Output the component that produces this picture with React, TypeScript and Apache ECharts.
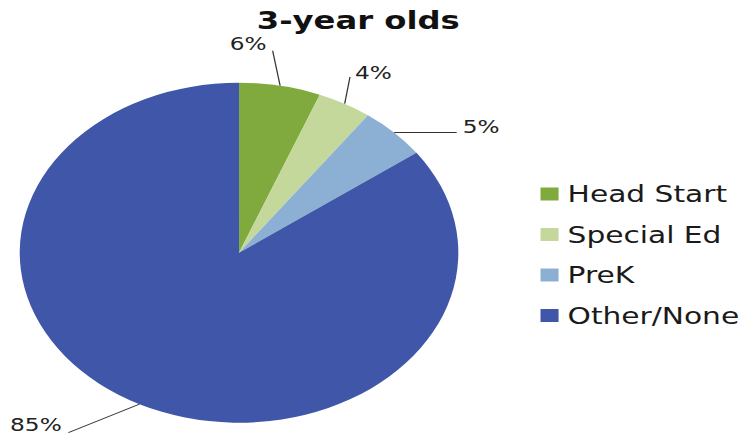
import React, { useEffect, useRef } from "react";
import * as echarts from "echarts";

const title = "3-year olds";
const categories = ["Head Start", "Special Ed", "PreK", "Other/None"];
const values = [6, 4, 5, 85];
const colors = ["#80AA3D", "#C4D89B", "#8CB0D3", "#4056A8"];

// label leader offsets (style): line end relative to library edge point, text relative to line end
const labelOffsets = [
  { lx: -5.8, ly: -35, tx: -4.7, ty: -7, align: "right" },
  { lx: 4.1, ly: -26.7, tx: 3.9, ty: -4.5, align: "left" },
  { lx: 48.5, ly: 0, tx: 4.7, ty: -6, align: "left" },
  { lx: -55.1, ly: 28.5, tx: -5.2, ty: -7.7, align: "right" },
];

const SX = 1.29;
const W = 747;
const H = 437;

export default function App() {
  const ref = useRef<HTMLDivElement>(null);
  useEffect(() => {
    const chart = echarts.init(ref.current!, null, { renderer: "svg" });
    chart.setOption({
      animation: false,
      title: {
        text: title,
        left: 199,
        top: 8,
        padding: 0,
        textStyle: {
          fontFamily: "DejaVu Sans",
          fontWeight: "bold",
          fontSize: 25,
          color: "#111",
        },
      },
      legend: {
        orient: "vertical",
        left: 419,
        top: 182,
        padding: 0,
        itemWidth: 14,
        itemHeight: 13,
        itemGap: 16.5,
        icon: "rect",
        data: categories,
        textStyle: {
          fontFamily: "DejaVu Sans",
          fontSize: 23,
          lineHeight: 24,
          color: "#1a1a1a",
          padding: [0, 0, 0, 2],
        },
      },
      series: [
        {
          type: "pie",
          center: [185.3, 252.7],
          radius: 170,
          startAngle: 90,
          clockwise: true,
          avoidLabelOverlap: false,
          emphasis: { disabled: true },
          itemStyle: { borderWidth: 0 },
          label: {
            show: true,
            position: "outside",
            formatter: (p: any) => Math.round(p.percent) + "%",
            fontFamily: "DejaVu Sans",
            fontSize: 18,
            color: "#222",
          },
          labelLine: {
            show: true,
            length: 10,
            length2: 10,
            lineStyle: { color: "#333", width: 1 },
          },
          labelLayout: (params: any) => {
            const pts = params.labelLinePoints;
            const o = labelOffsets[params.dataIndex];
            if (!pts || !o) return {};
            const s = pts[0];
            const e = [s[0] + o.lx, s[1] + o.ly];
            return {
              x: e[0] + o.tx,
              y: e[1] + o.ty,
              align: o.align,
              verticalAlign: "middle",
              labelLinePoints: [s, e],
            };
          },
          data: categories.map((name, i) => ({
            name,
            value: values[i],
            itemStyle: { color: colors[i] },
          })),
        },
      ],
    });
    return () => chart.dispose();
  }, []);
  return (
    <div
      style={{
        position: "fixed",
        left: 0,
        top: 0,
        width: W,
        height: H,
        overflow: "hidden",
        background: "#fff",
      }}
    >
      <div
        ref={ref}
        style={{
          width: W / SX,
          height: H,
          transform: `scaleX(${SX})`,
          transformOrigin: "0 0",
        }}
      />
    </div>
  );
}
